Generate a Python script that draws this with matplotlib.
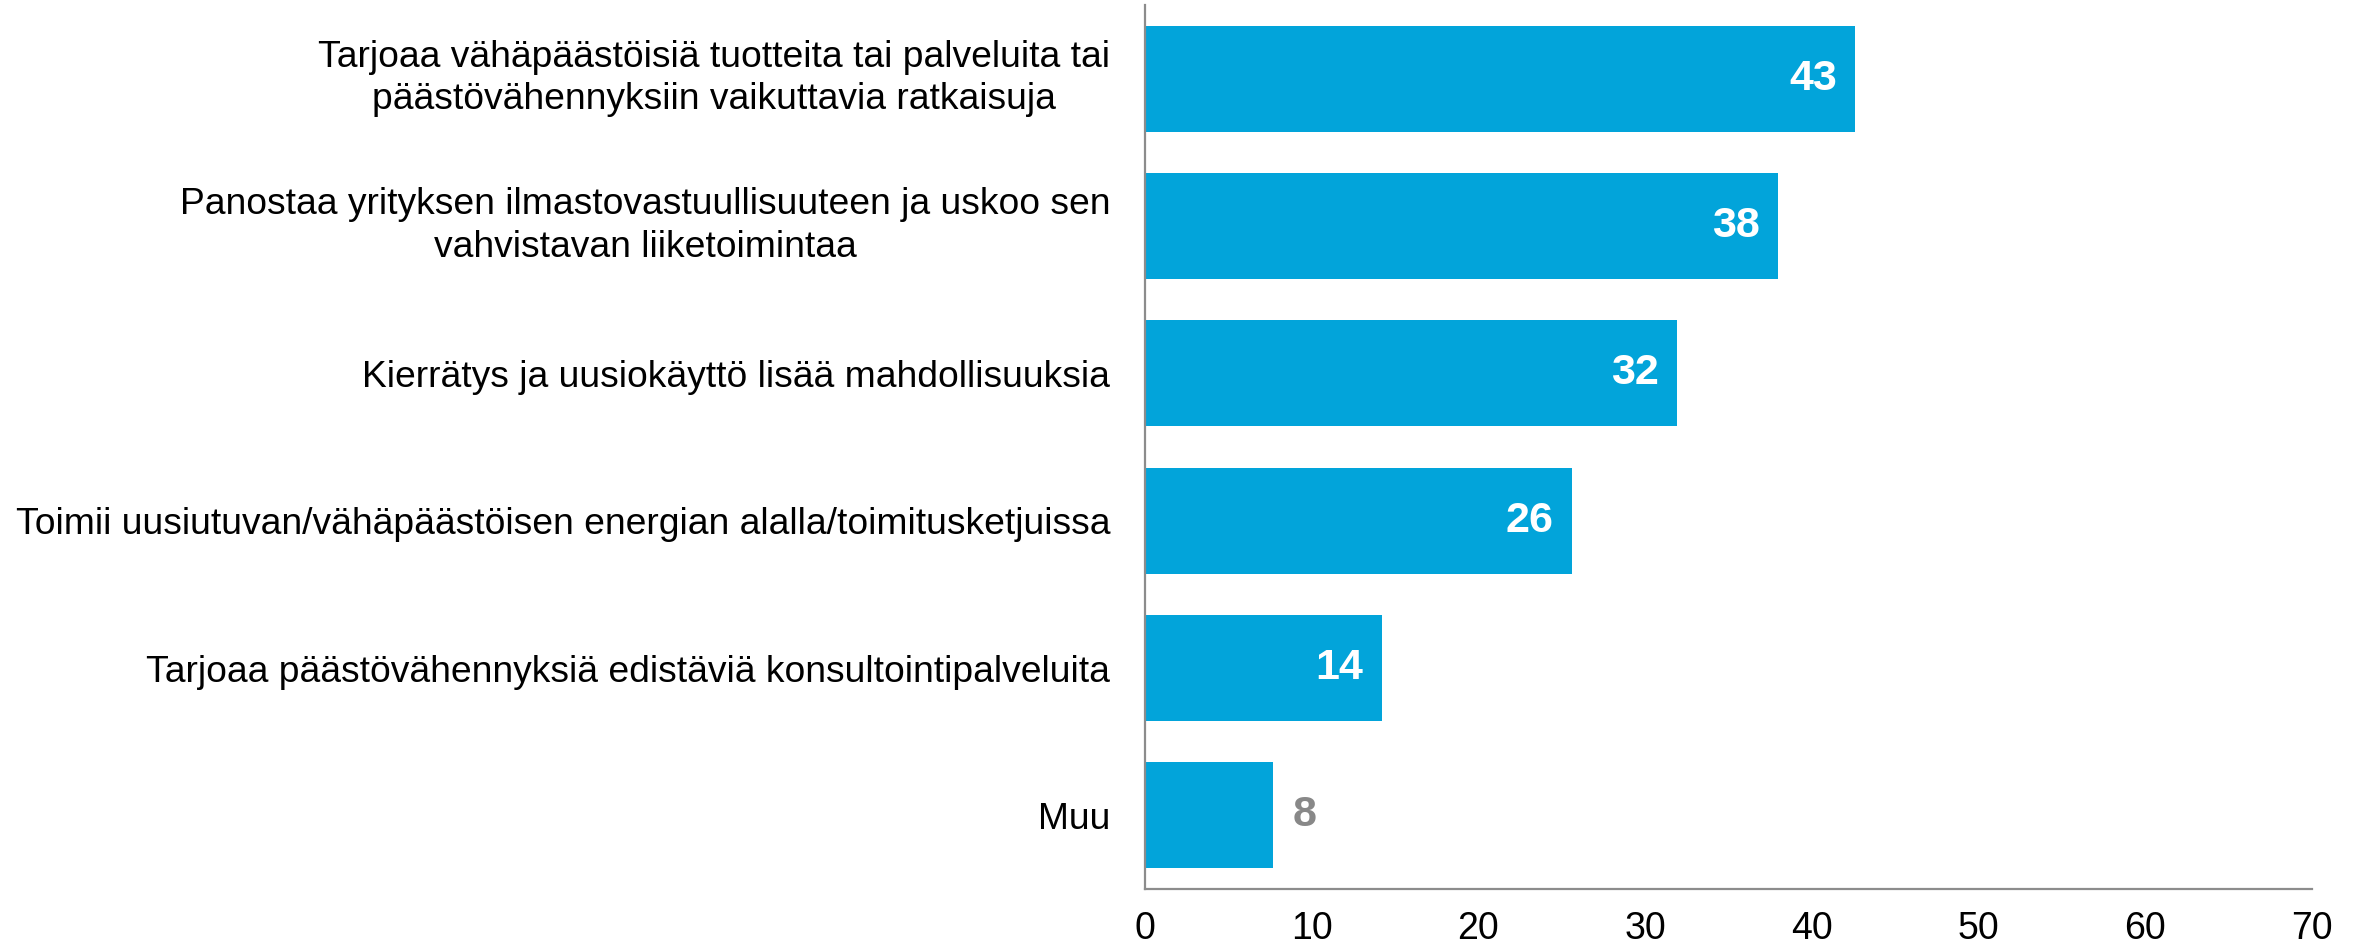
import matplotlib.pyplot as plt

plt.rcParams['font.family'] = ['Liberation Sans', 'DejaVu Sans']

categories = [
    'Tarjoaa vähäpäästöisiä tuotteita tai palveluita tai\npäästövähennyksiin vaikuttavia ratkaisuja',
    'Panostaa yrityksen ilmastovastuullisuuteen ja uskoo sen\nvahvistavan liiketoimintaa',
    'Kierrätys ja uusiokäyttö lisää mahdollisuuksia',
    'Toimii uusiutuvan/vähäpäästöisen energian alalla/toimitusketjuissa',
    'Tarjoaa päästövähennyksiä edistäviä konsultointipalveluita',
    'Muu',
]
values = [42.6, 38.0, 31.9, 25.6, 14.2, 7.7]
value_labels = ['43', '38', '32', '26', '14', '8']
xticks = [0, 10, 20, 30, 40, 50, 60, 70]

bar_color = '#02A4DA'
axis_gray = '#8c8c8c'

fig = plt.figure(figsize=(23.53, 9.48), dpi=100)
ax = fig.add_axes([0.4866, 0.0622, 0.9825 - 0.4866, 0.9947 - 0.0622])

ypos = list(range(len(categories)))
ax.barh(ypos, values, height=0.72, color=bar_color)
ax.set_ylim(len(categories) - 0.5, -0.5)
ax.set_xlim(0, 70)

ax.set_yticks(ypos)
ax.set_yticklabels(categories, fontsize=26.8, linespacing=1.27)
for t in ax.get_yticklabels():
    t.set_multialignment('center')
    if '\n' in t.get_text():
        t.set_verticalalignment('center')
ax.set_xticks(xticks)
ax.set_xticklabels([str(x) for x in xticks], fontsize=27)
ax.tick_params(axis='y', length=0, pad=25)
ax.tick_params(axis='x', length=0, pad=16)

for s in ['top', 'right']:
    ax.spines[s].set_visible(False)
for s in ['left', 'bottom']:
    ax.spines[s].set_color(axis_gray)
    ax.spines[s].set_linewidth(1.6)

# value labels: inside the bar in white, outside in grey for short bars
for y, v, lab in zip(ypos, values, value_labels):
    if v > 10:
        ax.annotate(lab, (v, y), xytext=(-13, 0), textcoords='offset points',
                    ha='right', va='center', color='white', fontsize=31, fontweight='bold')
    else:
        ax.annotate(lab, (v, y), xytext=(14, 0), textcoords='offset points',
                    ha='left', va='center', color='#888888', fontsize=31, fontweight='bold')

plt.savefig('out.png', dpi=100)
